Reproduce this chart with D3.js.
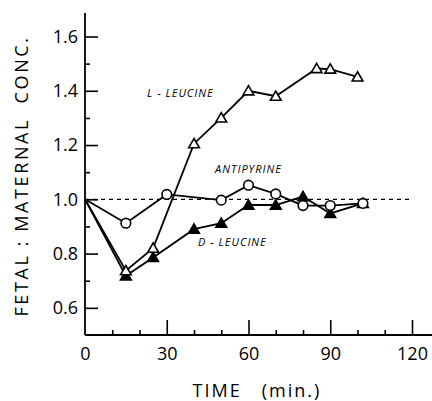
<!DOCTYPE html>
<html>
<head>
<meta charset="utf-8">
<script src="https://cdn.jsdelivr.net/npm/d3@7"></script>
<style>
  body { margin: 0; background: #fff; }
  svg { display: block; }
</style>
</head>
<body>
<svg width="432" height="401"></svg>
<script>
// data (time in min, fetal:maternal ratio)
const lLeucineTime = [0, 15, 25, 40, 50, 60, 70, 85, 90, 100];
const lLeucineVal  = [1.0, 0.737, 0.82, 1.205, 1.30, 1.40, 1.38, 1.482, 1.48, 1.451];
const antiTime = [0, 15, 30, 50, 60, 70, 80, 90, 102];
const antiVal  = [1.0, 0.912, 1.018, 0.997, 1.052, 1.02, 0.977, 0.977, 0.985];
const dLeucineTime = [0, 15, 25, 40, 50, 60, 70, 80, 90, 102];
const dLeucineVal  = [1.0, 0.718, 0.786, 0.89, 0.912, 0.979, 0.979, 1.01, 0.948, 0.985];
const xTicks = [0, 30, 60, 90, 120];
const yTicks = [0.6, 0.8, 1.0, 1.2, 1.4, 1.6];

const svg = d3.select('svg');
const width = +svg.attr('width');
const height = +svg.attr('height');
const font = "'Open Sans', 'Liberation Sans', sans-serif";

const x = d3.scaleLinear().domain([0, 120]).range([85, 412]);
const y = d3.scaleLinear().domain([0.5, 1.6]).range([335, 36.5]);

// axis lines
svg.append('line')
    .attr('x1', x(0)).attr('x2', width)
    .attr('y1', y(0.5)).attr('y2', y(0.5))
    .attr('stroke', '#000').attr('stroke-width', 1.8);
svg.append('line')
    .attr('x1', x(0)).attr('x2', x(0))
    .attr('y1', 13).attr('y2', y(0.5))
    .attr('stroke', '#000').attr('stroke-width', 1.8);

// x axis: ticks point up into the plot
const xMinor = d3.axisBottom(x).tickValues(d3.range(10, 121, 10).filter(d => d % 30)).tickSize(-5).tickFormat('');
svg.append('g').attr('transform', `translate(0,${y(0.5)})`).call(xMinor);
const xAxis = d3.axisBottom(x).tickValues(xTicks.slice(1)).tickSize(-15).tickFormat('');
svg.append('g').attr('transform', `translate(0,${y(0.5)})`).call(xAxis);
const xLabels = d3.axisBottom(x).tickValues(xTicks).tickSize(0).tickPadding(12).tickFormat(d3.format('d'));
svg.append('g').attr('transform', `translate(0,${y(0.5)})`).call(xLabels);

// y axis: ticks point right
const yMinor = d3.axisLeft(y).tickValues([0.7, 0.9, 1.1, 1.3, 1.5]).tickSize(-5).tickFormat('');
svg.append('g').attr('transform', `translate(${x(0)},0)`).call(yMinor);
const yAxis = d3.axisLeft(y).tickValues(yTicks).tickSize(-13).tickPadding(7).tickFormat(d3.format('.1f'));
svg.append('g').attr('transform', `translate(${x(0)},0)`).call(yAxis);

svg.selectAll('.domain').remove();
svg.selectAll('.tick line').attr('stroke', '#000').attr('stroke-width', 1.6);
svg.selectAll('.tick text')
    .attr('font-family', font).attr('font-size', 18).attr('font-weight', 400).attr('fill', '#000');

// reference line at 1.0
svg.append('line')
    .attr('x1', x(0)).attr('x2', x(120))
    .attr('y1', y(1.0)).attr('y2', y(1.0))
    .attr('stroke', '#000').attr('stroke-width', 1.2)
    .attr('stroke-dasharray', '4,4');

const line = d3.line().x(d => x(d[0])).y(d => y(d[1]));
const zipIt = (t, v) => t.map((d, i) => [d, v[i]]);
const series = [
    { pts: zipIt(dLeucineTime, dLeucineVal), shape: 'tri', fill: '#000' },
    { pts: zipIt(antiTime, antiVal), shape: 'circ', fill: '#fff' },
    { pts: zipIt(lLeucineTime, lLeucineVal), shape: 'tri', fill: '#fff' }
];

series.forEach(s => {
    svg.append('path')
        .attr('d', line(s.pts))
        .attr('fill', 'none').attr('stroke', '#000').attr('stroke-width', 1.8);
});
const triSym = d3.symbol().type(d3.symbolTriangle).size(50);
series.forEach(s => {
    const m = s.pts.slice(1);
    if (s.shape === 'tri') {
        svg.selectAll(null).data(m).enter().append('path')
            .attr('d', triSym)
            .attr('transform', d => `translate(${x(d[0])},${y(d[1]) + 1})`)
            .attr('fill', s.fill).attr('stroke', '#000').attr('stroke-width', 1.6);
    } else {
        svg.selectAll(null).data(m).enter().append('circle')
            .attr('cx', d => x(d[0])).attr('cy', d => y(d[1]))
            .attr('r', 4.8)
            .attr('fill', s.fill).attr('stroke', '#000').attr('stroke-width', 1.6);
    }
});

// series labels
const lab = (t, px, py) => svg.append('text').text(t)
    .attr('x', px).attr('y', py)
    .attr('font-family', font).attr('font-size', 11).attr('font-style', 'italic')
    .attr('letter-spacing', 1).attr('fill', '#000');
lab('L - LEUCINE', 147, 97);
lab('ANTIPYRINE', 215, 173);
lab('D - LEUCINE', 198, 246);

// axis titles
svg.append('text').text('TIME   (min.)')
    .attr('x', 257).attr('y', 397).attr('text-anchor', 'middle')
    .attr('font-family', font).attr('font-size', 18).attr('font-weight', 400)
    .attr('letter-spacing', 2).attr('fill', '#000')
    .style('white-space', 'pre');
svg.append('text').text('FETAL : MATERNAL  CONC.')
    .attr('transform', 'translate(28,176) rotate(-90)')
    .attr('text-anchor', 'middle')
    .attr('font-family', font).attr('font-size', 18).attr('font-weight', 400)
    .attr('letter-spacing', 2.6).attr('fill', '#000')
    .style('white-space', 'pre');
</script>
</body>
</html>
